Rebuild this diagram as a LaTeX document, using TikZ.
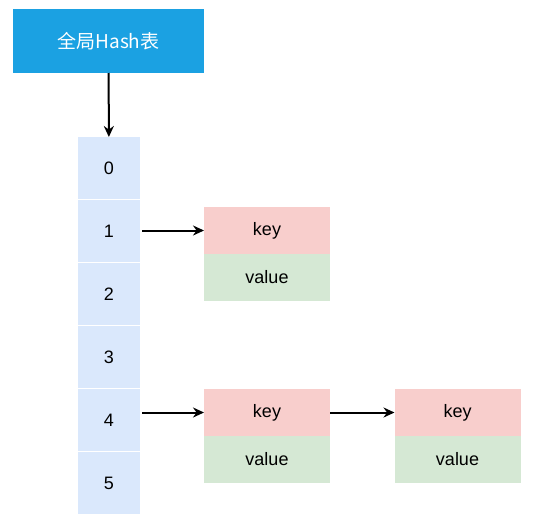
\documentclass[tikz,border=0pt]{standalone}
\usepackage{fontspec}
\setmainfont{Liberation Sans}
\newfontfamily\cjk{Noto Sans CJK SC}
\usetikzlibrary{positioning,arrows.meta}
\definecolor{hashblue}{HTML}{1BA1E2}
\definecolor{cellblue}{HTML}{DAE8FC}
\definecolor{keyred}{HTML}{F8CECC}
\definecolor{valgreen}{HTML}{D5E8D4}
\tikzset{
  hashbox/.style={fill=hashblue, text=white, minimum width=191pt, minimum height=64pt,
    inner sep=0pt, outer sep=0pt, font=\cjk\fontsize{19}{21}\selectfont},
  cell/.style={fill=cellblue, minimum width=62pt, minimum height=62pt,
    inner sep=0pt, outer sep=0pt, font=\fontsize{18}{20}\selectfont},
  keybox/.style={fill=keyred, minimum width=126pt, minimum height=47pt,
    inner sep=0pt, outer sep=0pt, font=\fontsize{18}{20}\selectfont},
  valbox/.style={keybox, fill=valgreen},
  link/.style={-{Stealth[length=11pt,width=10pt]}, line width=2pt}
}
\begin{document}
\begin{tikzpicture}[x=1pt,y=-1pt]
  \useasboundingbox (0,0) rectangle (540,525);
  \node[hashbox] (hash) at (108.5,41) {全局Hash表};
  \foreach \i in {0,...,5}
    \node[cell] (c\i) at (109,{168+63*\i}) {\i};
  % entries
  \node[keybox] (k1) at (267,230.5) {key};
  \node[valbox, below=0pt of k1] (v1) {value};
  \node[keybox] (k2) at (267,412.5) {key};
  \node[valbox, below=0pt of k2] (v2) {value};
  \node[keybox] (k3) at (457.5,412.5) {key};
  \node[valbox, below=0pt of k3] (v3) {value};
  % links
  \draw[link] (hash) -- (c0);
  \draw[link] (c1.east |- k1.west) ++(2,0) coordinate (s1) -- (k1.west);
  \draw[link] (c4.east |- k2.west) ++(2,0) coordinate (s2) -- (k2.west);
  \draw[link] (k2) -- (k3);
\end{tikzpicture}
\end{document}
